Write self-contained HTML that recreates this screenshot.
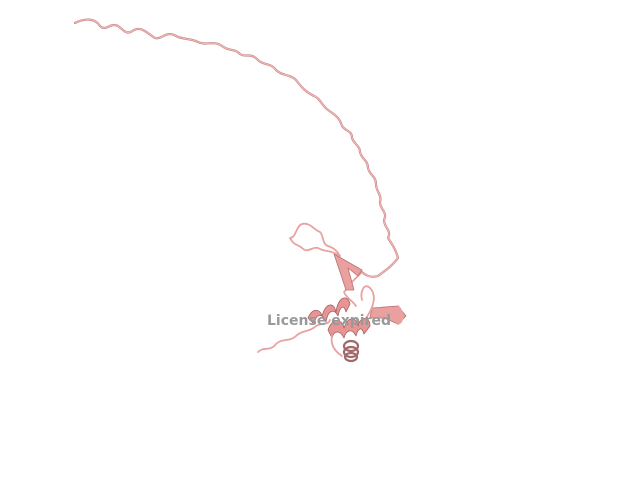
<!DOCTYPE html>
<html><head><meta charset="utf-8"><style>
html,body{margin:0;padding:0;background:#fff;}
svg{display:block;}
</style></head><body>
<svg width="640" height="480" viewBox="0 0 640 480">
<g fill="none" stroke-linecap="round" stroke-linejoin="round">
 <g>
  <path d="M75,23 C85,18 95,18 100,26 C106,32 110,22 118,26 C124,30 126,36 134,30 C142,26 148,34 155,38 C162,40 166,30 176,36 C184,40 190,38 198,42 C206,46 214,40 222,46 C230,52 234,48 240,54 C246,58 250,52 258,60 C264,66 270,62 276,70 C282,76 290,74 296,80 C302,88 306,92 314,96 C320,98 322,106 328,110 C334,114 340,118 342,126 C346,132 352,130 352,138 C354,144 360,146 360,152 C362,160 368,160 368,168 C370,176 376,176 376,184 C376,192 382,194 380,202 C380,210 388,212 384,220 C384,228 392,230 388,238 C392,244 396,250 398,258 C392,266 386,270 378,276 C372,278 366,276 362,272" stroke="#c07c7c" stroke-width="2.2"/>
  <path d="M75,23 C85,18 95,18 100,26 C106,32 110,22 118,26 C124,30 126,36 134,30 C142,26 148,34 155,38 C162,40 166,30 176,36 C184,40 190,38 198,42 C206,46 214,40 222,46 C230,52 234,48 240,54 C246,58 250,52 258,60 C264,66 270,62 276,70 C282,76 290,74 296,80 C302,88 306,92 314,96 C320,98 322,106 328,110 C334,114 340,118 342,126 C346,132 352,130 352,138 C354,144 360,146 360,152 C362,160 368,160 368,168 C370,176 376,176 376,184 C376,192 382,194 380,202 C380,210 388,212 384,220 C384,228 392,230 388,238 C392,244 396,250 398,258 C392,266 386,270 378,276 C372,278 366,276 362,272" stroke="#f2b8b8" stroke-width="1.2"/>
 </g>
 <g stroke="#e8a2a2" stroke-width="1.8">
  <path d="M290,238 C296,238 296,226 302,224 C310,222 314,230 320,232 C324,236 322,244 328,246 C334,248 338,252 340,256 C332,250 324,252 318,248 C312,246 308,254 302,248 C298,244 294,246 290,238"/>
  <path d="M336,256 L362,272 L352,282 L344,292 C346,298 352,300 356,306"/>
 </g>
 <g>
  <polygon points="334,254 362,270 358,276 348,268 354,290 346,290" fill="#eba0a0" stroke="#b87070" stroke-width="0.8"/>
  <polygon points="372,308 398,306 406,316 398,324 384,318 370,318" fill="#eba0a0" stroke="#b87070" stroke-width="0.8"/>
 </g>
 <g fill="#e69494" stroke="#a66262" stroke-width="0.8">
  <path d="M308,318 C312,308 320,308 322,316 C326,302 334,302 336,312 C338,296 348,294 350,304 L346,312 C344,304 340,306 338,316 C334,308 328,310 326,322 C322,312 316,314 314,324 Z"/>
 </g>
 <g fill="#e69494" stroke="#a66262" stroke-width="0.8">
  <path d="M328,330 C332,318 342,318 344,328 C348,316 356,316 358,326 C360,316 370,316 370,326 L364,334 C362,326 358,328 356,336 C352,328 346,330 344,338 C340,330 334,330 332,338 Z"/>
 </g>
 <g stroke="#a06a6a" stroke-width="2.2">
  <ellipse cx="351" cy="346" rx="7" ry="5"/>
  <ellipse cx="351" cy="352" rx="7" ry="5"/>
  <ellipse cx="351" cy="357" rx="6" ry="4"/>
 </g>
 <g stroke="#e8a2a2" stroke-width="1.8">
  <path d="M258,352 C264,346 270,352 276,344 C282,338 290,342 296,336 C302,330 310,332 316,326 C322,322 328,326 330,320"/>
  <path d="M332,336 C330,346 336,352 342,356 M366,318 C372,310 378,296 370,288 C364,282 360,292 362,300 M398,324 C404,322 404,312 398,306"/>
 </g>
</g>
<text x="329" y="325" text-anchor="middle" font-family="'DejaVu Sans','Liberation Sans',sans-serif" font-weight="bold" font-size="14" fill="#999999">License expired</text>
</svg>
</body></html>
